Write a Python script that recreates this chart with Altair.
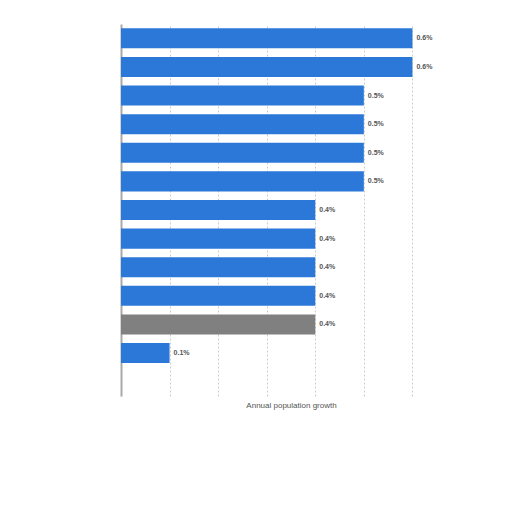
import altair as alt
import pandas as pd

categories = ["R1", "R2", "R3", "R4", "R5", "R6", "R7", "R8", "R9", "R10", "R11", "R12", "R13"]
growth = [0.6, 0.6, 0.5, 0.5, 0.5, 0.5, 0.4, 0.4, 0.4, 0.4, 0.4, 0.1, None]
labels = ["0.6%", "0.6%", "0.5%", "0.5%", "0.5%", "0.5%", "0.4%", "0.4%", "0.4%", "0.4%", "0.4%", "0.1%", ""]
colors = ["#2b78d8"] * 13
colors[10] = "#808080"
grid_values = [0, 0.1, 0.2, 0.3, 0.4, 0.5, 0.6]

df = pd.DataFrame({"cat": categories, "growth": growth, "label": labels, "color": colors})

y = alt.Y("cat:N", sort=categories,
          scale=alt.Scale(domain=categories, paddingInner=0.3, paddingOuter=0.15),
          axis=alt.Axis(labels=False, ticks=False, title=None, domainColor="#aaaaaa", domainWidth=2))
x = alt.X("growth:Q", scale=alt.Scale(domain=[0, 0.7], nice=False),
          axis=alt.Axis(values=grid_values, labels=False, ticks=False,
                        domain=False, grid=True, gridDash=[2, 2], gridColor="#cccccc",
                        title="Annual population growth", titleFontSize=8, titleFontWeight="normal",
                        titleColor="#555555", titlePadding=5))

bars = alt.Chart(df).mark_bar().encode(x=x, y=y, color=alt.Color("color:N", scale=None))
text = alt.Chart(df).mark_text(align="left", dx=4, fontSize=7, fontWeight="bold", color="#555555").encode(
    x="growth:Q", y=alt.Y("cat:N", sort=categories), text="label:N")

chart = (bars + text).properties(width=340, height=372).configure_view(stroke=None).properties(
    padding={"left": 113, "top": 16, "right": 20, "bottom": 20}, autosize="none")

chart.save("out.html", embed_options={"renderer": "svg", "actions": False})
